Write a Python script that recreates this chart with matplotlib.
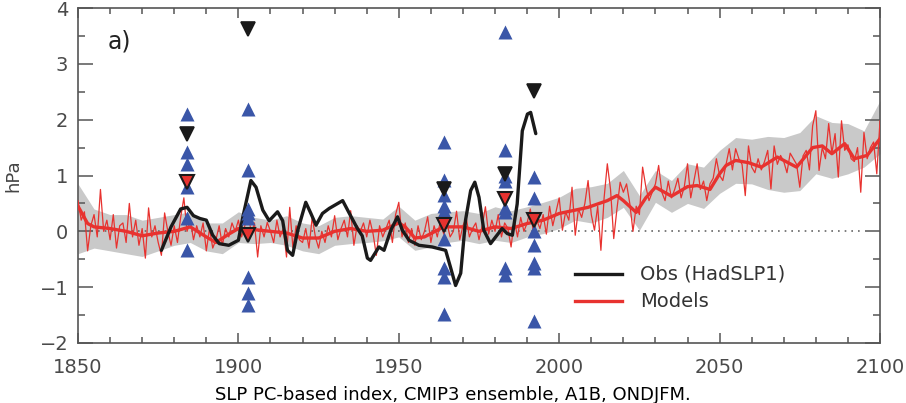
import numpy as np
import matplotlib
matplotlib.use('Agg')
import matplotlib.pyplot as plt

# Models: annual index (thin red), 1850-2100
years = np.arange(1850, 2101)
model_annual = [
    0.55, 0.2, 0.35, -0.35, 0.1, 0.3, -0.1, 0.75, 0.0, 0.2,
    -0.15, 0.3, -0.3, 0.1, 0.15, -0.2, 0.5, -0.1, 0.2, -0.25,
    0.05, -0.48, 0.42, -0.1, 0.1, -0.2, -0.43, 0.33, 0.0, -0.25,
    0.1, -0.2, 0.25, 0.6, 0.0, 0.2, -0.15, 0.1, -0.1, 0.15,
    -0.35, 0.05, -0.3, -0.15, 0.1, -0.25, 0.05, -0.1, 0.15, 0.0,
    0.2, -0.1, 0.1, 0.4, -0.05, 0.15, -0.46, 0.1, -0.1, 0.16,
    0.0, -0.2, 0.2, -0.1, 0.05, -0.46, 0.43, -0.3, 0.1, -0.15,
    -0.2, 0.05, -0.3, 0.25, -0.1, -0.3, 0.0, -0.2, 0.1, -0.1,
    0.28, -0.15, 0.05, 0.2, -0.1, 0.37, -0.25, 0.1, 0.0, 0.15,
    -0.1, 0.2, -0.05, -0.43, 0.1, -0.1, 0.05, 0.2, -0.2, 0.3,
    0.52, -0.1, 0.15, -0.2, 0.05, -0.25, 0.1, -0.15, 0.0, 0.26,
    -0.2, 0.1, -0.1, 0.2, -0.05, 0.15, -0.1, 0.0, 0.36, -0.15,
    0.1, 0.25, -0.1, 0.05, 0.15, -0.15, 0.1, 0.44, -0.05, 0.2,
    0.0, 0.3, -0.1, 0.15, 0.05, -0.28, 0.2, -0.1, 0.25, 0.0,
    0.15, 0.4, -0.05, 0.2, 0.05, 0.3, -0.05, 0.45, 0.1, 0.35,
    0.6, 0.02, 0.35, 0.2, 0.79, -0.07, 0.4, 0.25, 0.5, 0.91,
    0.3, 0.02, 0.45, -0.34, 0.6, 1.21, 0.75, -0.13, 0.4, 0.88,
    0.7, 0.85, 0.5, 0.0, 0.45, 0.3, 1.15, 0.8, 0.55, 0.7,
    0.85, 1.18, 0.7, 0.55, 0.9, 0.6, 0.75, 0.95, 0.6, 0.8,
    1.21, 0.6, 0.9, 1.21, 0.75, 0.9, 0.55, 0.85, 0.95, 1.3,
    1.0, 0.91, 1.2, 1.48, 1.1, 1.48, 1.3, 1.2, 0.64, 1.53,
    1.15, 1.05, 1.3, 1.1, 1.25, 1.45, 0.76, 1.53, 1.2, 1.36,
    1.25, 1.05, 1.4, 1.3, 1.2, 0.79, 1.35, 1.45, 1.1, 1.89,
    2.16, 1.09, 1.5, 1.3, 1.93, 1.4, 1.75, 0.97, 1.98, 1.45,
    1.55, 1.3, 1.25, 1.5, 0.7, 1.77, 1.3, 1.5, 1.6, 1.03,
    1.98,
]

# Models: smoothed mean (thick red)
mean_years = [1850, 1853, 1855, 1860, 1865, 1870, 1875, 1880, 1885, 1890, 1893, 1897,
              1900, 1905, 1910, 1915, 1920, 1925, 1930, 1935, 1940, 1945, 1950,
              1952, 1955, 1958, 1964, 1970, 1975, 1980, 1985, 1990, 1995, 2000,
              2005, 2009, 2015, 2018, 2020, 2024, 2027, 2030, 2035, 2040, 2043,
              2047, 2050, 2052, 2055, 2059, 2063, 2068, 2074, 2079, 2082, 2085,
              2089, 2092, 2096, 2100]
mean_vals = [0.45, 0.14, 0.08, 0.05, 0.0, -0.08, -0.03, 0.0, 0.08, -0.1, -0.2, -0.05,
             0.05, 0.03, 0.0, -0.03, -0.12, -0.12, 0.0, 0.05, 0.0, 0.02, 0.15,
             0.08, -0.12, -0.1, 0.08, 0.08, 0.0, 0.08, 0.05, 0.14, 0.2, 0.32,
             0.38, 0.43, 0.55, 0.64, 0.55, 0.34, 0.6, 0.79, 0.63, 0.8, 0.82,
             0.75, 1.03, 1.18, 1.27, 1.23, 1.15, 1.33, 1.15, 1.5, 1.53, 1.39,
             1.57, 1.3, 1.36, 1.66]

# Models: spread (grey band)
band_years = np.arange(1850, 2101, 5)
band_low = [-0.4, -0.3, -0.35, -0.4, -0.45, -0.35, -0.25, -0.2, -0.35, -0.4,
            -0.2, -0.22, -0.2, -0.25, -0.35, -0.4, -0.25, -0.22, -0.2, -0.17,
            -0.1, -0.34, -0.28, -0.2, -0.16, -0.22, -0.16, -0.2, -0.1, -0.04,
            0.05, 0.2, 0.15, 0.25, 0.43, 0.02, 0.52, 0.34, 0.5, 0.41,
            0.68, 0.86, 0.85, 0.75, 0.7, 0.73, 1.03, 0.95, 1.03, 1.15, 1.39]
band_high = [0.85, 0.4, 0.3, 0.3, 0.2, 0.25, 0.3, 0.35, 0.15, 0.15,
             0.35, 0.25, 0.2, 0.28, 0.15, 0.1, 0.25, 0.28, 0.25, 0.22,
             0.45, 0.2, 0.32, 0.35, 0.37, 0.32, 0.44, 0.37, 0.44, 0.52,
             0.61, 0.77, 0.8, 0.86, 1.09, 0.64, 1.09, 0.91, 1.21, 1.15,
             1.45, 1.68, 1.65, 1.7, 1.68, 1.77, 2.07, 1.95, 1.93, 1.8, 2.34]

# Observations (HadSLP1)
obs_years = [1876, 1879, 1882, 1884, 1886, 1888, 1890, 1892, 1894, 1897, 1900,
             1901.4, 1903.9, 1905.5, 1907.6, 1909.6, 1912.2, 1913.8, 1915.3, 1916.9,
             1918.5, 1921, 1922.6, 1924.2, 1926.2, 1928.3, 1932.5, 1934.6, 1937.1,
             1938.6, 1940.2, 1941.2, 1943.8, 1945.4, 1947.5, 1949.6, 1951.1, 1953.2,
             1956.3, 1960.4, 1964.6, 1966.1, 1967.7, 1969.3, 1970.8, 1972.4, 1973.7,
             1975, 1976.5, 1978.6, 1980.2, 1982.2, 1983.8, 1985.4, 1986.9, 1988.5,
             1990.1, 1991.1, 1992.7]
obs_vals = [-0.34, 0.08, 0.4, 0.43, 0.28, 0.23, 0.2, -0.07, -0.22, -0.25, -0.16,
            0.26, 0.91, 0.79, 0.38, 0.19, 0.35, 0.19, -0.34, -0.43,
            0.02, 0.52, 0.32, 0.11, 0.32, 0.41, 0.55, 0.32, 0.05,
            -0.08, -0.48, -0.52, -0.28, -0.34, 0.02, 0.26, 0.02, -0.16,
            -0.25, -0.28, -0.34, -0.64, -0.97, -0.75, 0.2, 0.73, 0.88,
            0.61, 0.02, -0.22, -0.1, 0.05, -0.04, -0.07, 0.49, 1.8,
            2.1, 2.13, 1.75]

# Individual model values (blue), obs (black) and model mean (red) per event
event_years = [1884, 1903, 1964, 1983, 1992]
blue_vals = [
    [2.1, 1.42, 1.21, 0.79, 0.23, -0.34],
    [2.19, 1.1, 0.4, 0.32, 0.23, -0.82, -1.11, -1.32],
    [1.6, 0.92, 0.65, 0.45, 0.37, -0.13, -0.66, -0.82, -1.48],
    [3.57, 1.45, 1.0, 0.9, 0.41, 0.35, -0.66, -0.79],
    [0.97, 0.6, 0.0, -0.25, -0.56, -0.66, -1.6],
]
black_vals = [1.74, 3.63, 0.76, 1.03, 2.52]
red_vals = [0.88, -0.07, 0.11, 0.58, 0.2]

red = '#e8322f'
grey = '#555555'

fig = plt.figure(figsize=(9.06, 4.03), dpi=100)
ax = fig.add_axes([78 / 906, 1 - 343 / 403, 802 / 906, 335 / 403])

ax.fill_between(band_years, band_low, band_high, color='#c9c9c9', lw=0, zorder=1)
ax.plot([1850, 2095], [0, 0], color='#666666', lw=1.2, ls=(0, (1, 3)), zorder=2)
ax.plot(years, model_annual, color=red, lw=0.9, zorder=3)
ax.plot(mean_years, mean_vals, color=red, lw=2.4, zorder=4)
ax.plot(obs_years, obs_vals, color='#1a1a1a', lw=2.4, zorder=5,
        solid_joinstyle='round', solid_capstyle='round')

for yr, vals in zip(event_years, blue_vals):
    ax.plot([yr] * len(vals), vals, ls='none', marker='^', ms=9.5,
            color='#3a56a8', mec='none', zorder=6)
ax.plot(event_years, black_vals, ls='none', marker='v', ms=10.5,
        color='#1a1a1a', mec='#1a1a1a', mew=1.2, zorder=7)
ax.plot(event_years, red_vals, ls='none', marker='v', ms=10.5,
        color=red, mec='#1a1a1a', mew=1.5, zorder=7)

ax.set_xlim(1850, 2100)
ax.set_ylim(-2, 4)
ax.set_xticks(np.arange(1850, 2101, 50))
ax.set_xticks(np.arange(1850, 2101, 10), minor=True)
ax.set_yticks(np.arange(-2, 5, 1))
ax.set_yticks(np.arange(-2, 4.1, 0.5), minor=True)
ax.set_yticklabels(['\u22122', '\u22121', '0', '1', '2', '3', '4'])
ax.tick_params(axis='both', which='both', direction='in', top=True, right=True,
               colors=grey, labelcolor='#4a4a4a', labelsize=14, width=1.1)
ax.tick_params(axis='y', which='major', length=11, pad=7)
ax.tick_params(axis='y', which='minor', length=5)
ax.tick_params(axis='x', which='major', length=7, pad=11)
ax.tick_params(axis='x', which='minor', length=4)
for s in ax.spines.values():
    s.set_color(grey)
    s.set_linewidth(1.2)

ax.set_ylabel('hPa', fontsize=13, color='#444444', labelpad=12)
ax.text(0.037, 0.9, 'a)', transform=ax.transAxes, fontsize=17, color='#222222',
        va='center', ha='left')

# legend
ax.plot([0.6197, 0.678], [0.206, 0.206], transform=ax.transAxes, color='#1a1a1a', lw=2.4)
ax.plot([0.6197, 0.678], [0.125, 0.125], transform=ax.transAxes, color=red, lw=2.4)
ax.text(0.7007, 0.206, 'Obs (HadSLP1)', transform=ax.transAxes, fontsize=14,
        color='#333333', va='center')
ax.text(0.7007, 0.125, 'Models', transform=ax.transAxes, fontsize=14,
        color='#333333', va='center')

fig.text(453 / 906, 1 - 395 / 403, 'SLP PC-based index, CMIP3 ensemble, A1B, ONDJFM.',
         ha='center', va='center', fontsize=13, color='black')

fig.savefig('out.png', dpi=100)
